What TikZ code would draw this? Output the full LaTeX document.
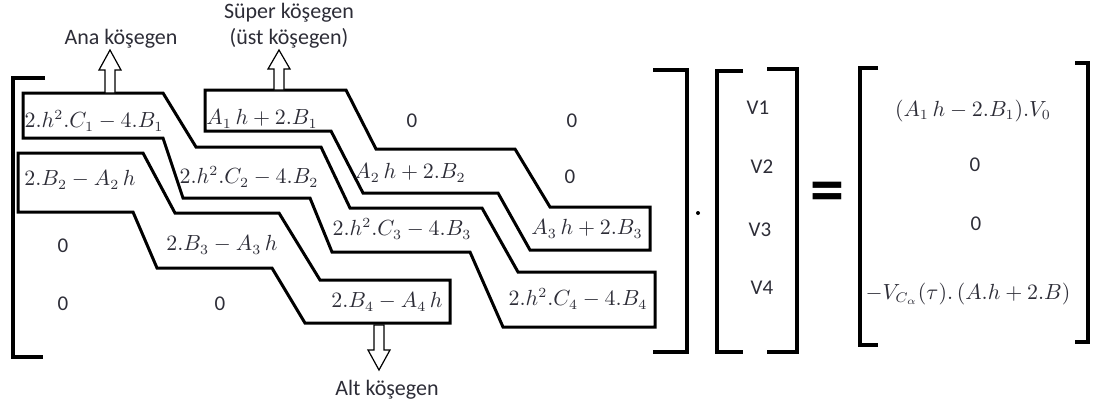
\documentclass[tikz,border=0pt]{standalone}
\usepackage{fontspec}
\setmainfont{Carlito}
\usepackage{amsmath}
\usepackage{amssymb}
\definecolor{entryink}{RGB}{45,45,55}

\begin{document}
\begin{tikzpicture}[
    x=0.5pt, y=-0.5pt,
    band/.style={line width=1.5pt, line join=miter},
    bracket/.style={line width=2pt},
    entry/.style={inner sep=0pt, text=entryink, font=\fontsize{10.5}{12}\selectfont},
    note/.style={inner sep=0pt, text=entryink, font=\fontsize{11}{13}\selectfont, align=center},
    blockarrow/.style={draw=black, fill=white, line width=0.6pt}
]
    \useasboundingbox (0,0) rectangle (1094,409);

    % Coefficient matrix - brackets
    \draw[bracket] (45,78) -- (13,78) -- (13,357) -- (43,357);
    \draw[bracket] (653,70) -- (687,70) -- (687,352) -- (653,352);

    % Diagonal bands
    \draw[band] (205,90) -- (346,90) -- (376,149) -- (515,149) -- (550,207) -- (650,207)
        -- (650,250) -- (530,250) -- (498,193) -- (363,193) -- (331,131) -- (205,131) -- cycle;
    \draw[band] (23,93) -- (163,93) -- (196,147) -- (321,147) -- (350,208) -- (482,208)
        -- (518,272) -- (655,272) -- (655,327) -- (503,327) -- (470,252) -- (332,252)
        -- (310,198) -- (183,198) -- (163,138) -- (23,138) -- cycle;
    \draw[band] (18,153) -- (143,153) -- (175,213) -- (279,213) -- (320,280) -- (450,280)
        -- (450,323) -- (305,323) -- (272,268) -- (157,268) -- (133,212) -- (18,212) -- cycle;

    % Row 1
    \node[entry] (a11) at (94,121) {$2.h^2.C_1 - 4.B_1$};
    \node[entry] (a12) at (262,119) {$A_1\,h + 2.B_1$};
    \node[entry] (a13) at (412,121) {0};
    \node[entry] (a14) at (572,121) {0};
    % Row 2
    \node[entry] (a21) at (80,180) {$2.B_2 - A_2\,h$};
    \node[entry] (a22) at (249,177) {$2.h^2.C_2 - 4.B_2$};
    \node[entry] (a23) at (410,173) {$A_2\,h + 2.B_2$};
    \node[entry] (a24) at (570,177) {0};
    % Row 3
    \node[entry] (a31) at (63,246) {0};
    \node[entry] (a32) at (222,245) {$2.B_3 - A_3\,h$};
    \node[entry] (a33) at (402,229) {$2.h^2.C_3 - 4.B_3$};
    \node[entry] (a34) at (587,229) {$A_3\,h + 2.B_3$};
    % Row 4
    \node[entry] (a41) at (63,304) {0};
    \node[entry] (a42) at (220,304) {0};
    \node[entry] (a43) at (387,302) {$2.B_4 - A_4\,h$};
    \node[entry] (a44) at (578,299) {$2.h^2.C_4 - 4.B_4$};

    % Labels and hollow arrows
    \node[note] (ana) at (121,39) {Ana köşegen};
    \node[note] (super) at (289,26) {Süper köşegen\\(üst köşegen)};
    \node[note] (alt) at (387,390) {Alt köşegen};
    \coordinate (anafoot) at (110,93);
    \coordinate (superfoot) at (279,90);
    \coordinate (altfoot) at (379,325);
    \draw[blockarrow] (anafoot) ++(-5,0) -- ++(0,-23) -- ++(-6,0) -- ++(11,-20)
        -- ++(11,20) -- ++(-6,0) -- ++(0,23) -- cycle;
    \draw[blockarrow] (superfoot) ++(-5,0) -- ++(0,-21) -- ++(-6,0) -- ++(11,-19)
        -- ++(11,19) -- ++(-6,0) -- ++(0,21) -- cycle;
    \draw[blockarrow] (altfoot) ++(-5,0) -- ++(0,25) -- ++(-6,0) -- ++(11,20)
        -- ++(11,-20) -- ++(-6,0) -- ++(0,-25) -- cycle;

    % Product dot
    \fill (698,213) circle (2);

    % Unknown vector
    \draw[bracket] (743,71) -- (717,71) -- (717,352) -- (743,352);
    \draw[bracket] (767,69) -- (797,69) -- (797,352) -- (767,352);
    \node[entry] (v1) at (758,108) {V1};
    \node[entry] (v2) at (762,167) {V2};
    \node[entry] (v3) at (760,230) {V3};
    \node[entry] (v4) at (762,288) {V4};

    % Equals sign
    \node[inner sep=0pt, font=\fontsize{34}{34}\selectfont\bfseries] (eq) at (827,197) {=};

    % Right-hand side
    \draw[bracket] (878,68) -- (860,68) -- (860,345) -- (878,345);
    \draw[bracket] (1075,63) -- (1088,63) -- (1088,342) -- (1075,342);
    \node[entry] (r1) at (973,111) {$(A_1\,h - 2.B_1).V_0$};
    \node[entry] (r2) at (975,165) {0};
    \node[entry] (r3) at (976,224) {0};
    \node[entry] (r4) at (968,294) {$-V_{C_\alpha}(\tau).\,(A.h + 2.B)$};
\end{tikzpicture}
\end{document}
